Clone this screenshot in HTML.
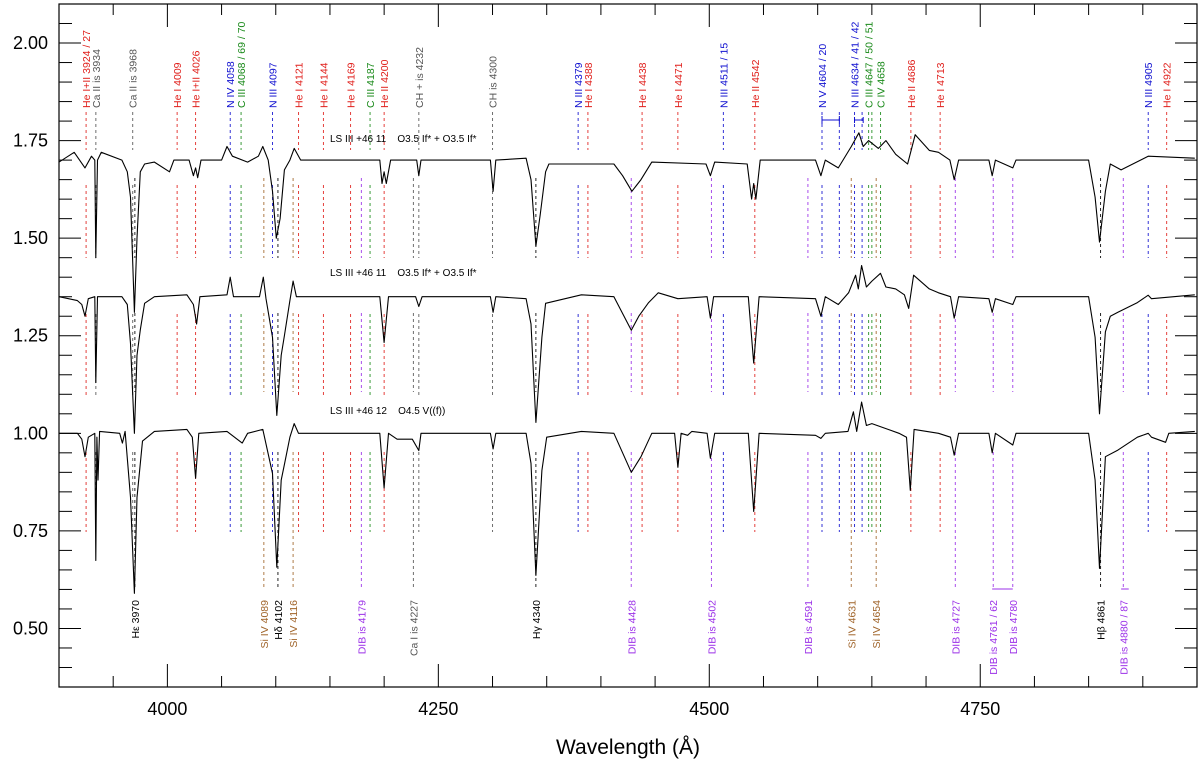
<!DOCTYPE html>
<html><head><meta charset="utf-8"><style>
html,body{margin:0;padding:0;background:#fff;}
svg{display:block;font-family:"Liberation Sans",sans-serif;}
</style></head><body>
<svg id="chart" width="1200" height="763" viewBox="0 0 1200 763" xmlns="http://www.w3.org/2000/svg">
<defs><clipPath id="plotclip"><rect x="59" y="4" width="1138" height="683"/></clipPath></defs>
<g id="marks"></g>
<g id="spectra" clip-path="url(#plotclip)"></g>
<g id="axes"></g>
<text x="330" y="142" font-size="10" fill="#000" xml:space="preserve">LS III +46 11    O3.5 If* + O3.5 If*</text>
<text x="330" y="276" font-size="10" fill="#000" xml:space="preserve">LS III +46 11    O3.5 If* + O3.5 If*</text>
<text x="330" y="414" font-size="10" fill="#000" xml:space="preserve">LS III +46 12    O4.5 V((f))</text>
<text x="628" y="754" font-size="21" text-anchor="middle" fill="#000">Wavelength (Å)</text>
</svg>
<script>
const NS="http://www.w3.org/2000/svg";
const xMin=3900,xMax=4950,yMin=0.35,yMax=2.1;
const L=59,R=1197,T=4,B=687;
function X(w){return L+(w-xMin)/(xMax-xMin)*(R-L);}
function Y(v){return B-(v-yMin)/(yMax-yMin)*(B-T);}

const topWl=[3900,3914,3924,3930,3933,3934,3935.5,3939,3958,3963,3966,3969.6,3972,3975,3979,3988,4002,4006,4020,4024,4026,4028,4031,4050,4055,4060,4074,4084,4088,4093,4097,4100.5,4104,4108,4113,4117,4123,4172,4196,4198,4200,4202,4206,4230,4232,4234,4298,4300.5,4303,4331,4335.5,4340,4344,4349,4352,4412,4420,4428.6,4437,4447,4497,4501,4505,4535,4539,4541,4543,4547,4598,4603,4607,4619,4631,4638,4642,4647,4656,4663,4672,4683,4690,4703,4711.5,4722,4726,4730,4758,4761,4764,4780,4783,4850,4856,4860,4865.5,4870,4880,4905,4948];
const topFlux=[1.695,1.72,1.68,1.71,1.70,1.45,1.70,1.72,1.70,1.67,1.605,1.31,1.50,1.67,1.69,1.695,1.67,1.70,1.70,1.66,1.68,1.655,1.70,1.70,1.735,1.71,1.695,1.71,1.735,1.70,1.62,1.50,1.55,1.675,1.70,1.73,1.70,1.70,1.70,1.64,1.67,1.64,1.70,1.70,1.66,1.70,1.70,1.62,1.70,1.705,1.65,1.48,1.56,1.67,1.69,1.69,1.66,1.62,1.65,1.695,1.69,1.66,1.695,1.69,1.60,1.64,1.60,1.70,1.70,1.66,1.70,1.68,1.735,1.77,1.735,1.75,1.73,1.75,1.715,1.69,1.765,1.725,1.72,1.70,1.65,1.70,1.70,1.66,1.70,1.68,1.70,1.70,1.605,1.49,1.62,1.69,1.675,1.71,1.705];

const midWl=[3900,3917,3921,3924,3927,3933,3934,3935.5,3958,3963,3966,3969.6,3972,3975,3979,3988,4018,4024,4027,4030,4055,4058,4061,4085,4088.5,4091,4097,4101,4105,4108,4113,4116,4119,4168,4196,4200,4204,4229,4232,4235,4298,4300.5,4303,4331,4335.5,4340,4345.6,4349,4382,4412,4428,4435,4444,4453,4471,4498,4501,4504,4536,4541,4546,4598,4603,4607,4619,4628.5,4635,4637.5,4640.5,4645,4650,4658,4663,4672,4680,4684,4688.5,4703,4711.5,4722.6,4726,4730,4758,4761,4764,4780,4783,4850,4856,4860,4865.5,4870,4877,4895,4905,4908,4948];
const midFlux=[1.35,1.34,1.33,1.30,1.345,1.35,1.13,1.35,1.35,1.33,1.23,1.00,1.20,1.265,1.333,1.35,1.355,1.33,1.28,1.35,1.355,1.40,1.35,1.35,1.40,1.345,1.246,1.046,1.20,1.25,1.34,1.39,1.35,1.35,1.35,1.233,1.35,1.35,1.325,1.35,1.35,1.31,1.35,1.345,1.28,1.028,1.246,1.333,1.355,1.35,1.264,1.30,1.335,1.36,1.345,1.35,1.295,1.35,1.35,1.18,1.35,1.345,1.30,1.35,1.33,1.36,1.405,1.37,1.43,1.375,1.39,1.41,1.375,1.37,1.355,1.32,1.405,1.37,1.36,1.35,1.295,1.35,1.345,1.31,1.345,1.33,1.35,1.35,1.246,1.05,1.26,1.30,1.31,1.335,1.354,1.345,1.355];

const botWl=[3900,3917,3921,3924,3927,3933,3934,3935,3936,3937.5,3956,3958.5,3961,3966,3969.6,3972,3977,3988,4018,4023,4026,4029,4055,4069,4074,4088,4097,4101,4105,4108,4113,4117,4121,4172,4196,4200,4204,4212,4226,4232,4234,4298,4300.5,4303,4331,4335.5,4340,4345.6,4350,4382,4412,4428,4437,4447,4468,4471,4474,4480,4484,4498,4501,4505,4536,4541,4546,4598,4603,4607,4628,4633,4636,4640.5,4645,4650,4675,4682,4685.5,4689,4711.5,4722.6,4726,4730,4758,4761,4764,4780,4783,4850,4856,4860,4865.5,4877,4895,4905,4908,4921,4924,4948];
const botFlux=[1.00,1.00,0.985,0.94,0.99,1.00,0.674,0.99,0.88,1.005,1.00,0.975,1.005,0.836,0.59,0.836,0.98,1.005,1.01,0.99,0.885,1.00,1.005,0.975,1.00,1.01,0.897,0.657,0.88,0.92,0.99,1.025,1.00,1.00,1.00,0.86,1.00,0.985,0.985,0.956,1.00,1.00,0.96,1.00,1.00,0.923,0.636,0.905,0.99,1.005,1.00,0.90,0.94,1.00,1.00,0.913,1.00,0.995,1.005,1.00,0.936,1.00,1.00,0.80,1.00,0.995,0.987,1.00,1.005,1.055,1.005,1.08,1.02,1.025,1.00,0.99,0.854,1.01,1.00,0.99,0.944,1.00,1.00,0.95,1.00,0.97,1.00,1.00,0.88,0.654,0.94,0.957,0.99,1.00,0.99,0.977,1.00,1.005];

// line identifications (labels above the spectra)
const upWl=[3925,3934,3968,4009,4026,4058,4068,4097,4121,4144,4169,4187,4200,4232,4300,4379,4388,4438,4471,4513,4542,4604,4620,4634,4641,4647,4650,4658,4686,4713,4905,4922];
const upLabel=["He I+II 3924 / 27","Ca II is 3934","Ca II is 3968","He I 4009","He I+II 4026","N IV 4058","C III 4068 / 69 / 70","N III 4097","He I 4121","He I 4144","He I 4169","C III 4187","He II 4200","CH + is 4232","CH is 4300","N III 4379","He I 4388","He I 4438","He I 4471","N III 4511 / 15","He II 4542","N V 4604 / 20","","N III 4634 / 41 / 42","","C III 4647 / 50 / 51","","C IV 4658","He II 4686","He I 4713","N III 4905","He I 4922"];
const upColor=["#e0201c","#555","#555","#e0201c","#e0201c","#1010d0","#1a8a1a","#1010d0","#e0201c","#e0201c","#e0201c","#1a8a1a","#e0201c","#555","#555","#1010d0","#e0201c","#e0201c","#e0201c","#1010d0","#e0201c","#1010d0","#1010d0","#1010d0","#1010d0","#1a8a1a","#1a8a1a","#1a8a1a","#e0201c","#e0201c","#1010d0","#e0201c"];
// line identifications (labels below the spectra)
const dnWl=[3970,4089,4102,4116,4179,4227,4340,4428,4502,4591,4631,4654,4727,4762,4780,4861,4882];
const dnLabel=["Hε 3970","Si IV 4089","Hδ 4102","Si IV 4116","DIB is 4179","Ca I is 4227","Hγ 4340","DIB is 4428","DIB is 4502","DIB is 4591","Si IV 4631","Si IV 4654","DIB is 4727","DIB is 4761 / 62","DIB is 4780","Hβ 4861","DIB is 4880 / 87"];
const dnColor=["#000","#a0642a","#000","#a0642a","#9b30e8","#555","#000","#9b30e8","#9b30e8","#9b30e8","#a0642a","#a0642a","#9b30e8","#9b30e8","#9b30e8","#000","#9b30e8"];

const xMajor=[4000,4250,4500,4750];
const yMajor=["0.50","0.75","1.00","1.25","1.50","1.75","2.00"];

function el(tag,attrs,parent){const e=document.createElementNS(NS,tag);for(const k in attrs)e.setAttribute(k,attrs[k]);parent.appendChild(e);return e;}

const spectra=document.getElementById('spectra');
[[topWl,topFlux,'spectrum-top'],[midWl,midFlux,'spectrum-middle'],[botWl,botFlux,'spectrum-bottom']].forEach(s=>{
  let d='';s[0].forEach((w,i)=>{d+=(i?'L':'M')+X(w).toFixed(1)+' '+Y(s[1][i]).toFixed(1);});
  const p=el('path',{d:d,fill:'none',stroke:'#000','stroke-width':1.1,'stroke-linejoin':'round'},spectra);
  
  
});

const marks=document.getElementById('marks');
const upBands=[[112,150],[185,258],[314,398],[452,532]];
const dnBands=[[178,258],[313,392],[452,590]];
upWl.forEach((w,i)=>{
  const x=X(w);
  upBands.forEach(b=>{el('line',{x1:x,x2:x,y1:b[0],y2:b[1],stroke:upColor[i],'stroke-width':1,'stroke-dasharray':'3,3',opacity:0.85},marks);});
  if(upLabel[i]){
    const t=el('text',{x:x+4,y:108,transform:'rotate(-90 '+(x+4)+' 108)','font-size':10.5,fill:upColor[i]},marks);
    t.textContent=upLabel[i];
    
    
  }
});
dnWl.forEach((w,i)=>{
  const x=X(w);
  dnBands.forEach(b=>{el('line',{x1:x,x2:x,y1:b[0],y2:b[1],stroke:dnColor[i],'stroke-width':1,'stroke-dasharray':'3,3',opacity:0.85},marks);});
  const t=el('text',{x:x+4,y:600,transform:'rotate(-90 '+(x+4)+' 600)','font-size':10.5,fill:dnColor[i],'text-anchor':'end'},marks);
  t.textContent=dnLabel[i];
  
  
});
// brackets for blended lines
el('path',{d:'M'+X(4604)+' 116V124M'+X(4604)+' 120H'+X(4620)+'M'+X(4620)+' 116V124',stroke:'#1010d0',fill:'none'},marks);
el('path',{d:'M'+X(4634)+' 117V123M'+X(4634)+' 120H'+X(4642)+'M'+X(4642)+' 117V123',stroke:'#1010d0',fill:'none'},marks);
el('path',{d:'M'+X(4761)+' 589H'+X(4780),stroke:'#9b30e8',fill:'none'},marks);
el('path',{d:'M'+X(4880)+' 589H'+X(4887),stroke:'#9b30e8',fill:'none'},marks);

const axes=document.getElementById('axes');
el('rect',{x:L,y:T,width:R-L,height:B-T,fill:'none',stroke:'#000','stroke-width':1.2},axes);
for(let w=3950;w<xMax;w+=50){
  const x=X(w);const major=xMajor.indexOf(w)>=0;const len=major?23:11;
  el('line',{x1:x,x2:x,y1:B,y2:B-len,stroke:'#000'},axes);
  el('line',{x1:x,x2:x,y1:T,y2:T+len,stroke:'#000'},axes);
}
xMajor.forEach(w=>{const t=el('text',{x:X(w),y:715,'font-size':18,'text-anchor':'middle',fill:'#000'},axes);t.textContent=String(w);
  
  });
for(let k=8;k<=41;k++){
  const v=k*0.05;const y=Y(v);const major=(k%5===0);const len=major?22:13;
  el('line',{x1:L,x2:L+len,y1:y,y2:y,stroke:'#000'},axes);
  el('line',{x1:R,x2:R-len,y1:y,y2:y,stroke:'#000'},axes);
}
yMajor.forEach(s=>{const t=el('text',{x:48,y:Y(parseFloat(s))+6,'font-size':18,'text-anchor':'end',fill:'#000'},axes);t.textContent=s;
  
  });
</script>
</body></html>
